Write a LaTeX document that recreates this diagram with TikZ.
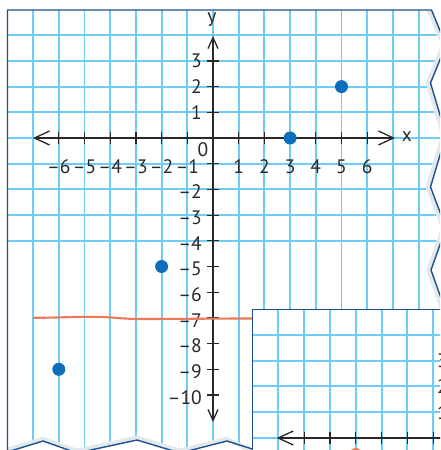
\documentclass[tikz,border=0pt]{standalone}
\usepackage{fontspec}
\setmainfont{PT Sans}
\usetikzlibrary{arrows.meta}
\definecolor{gridblue}{RGB}{110,205,245}
\definecolor{navy}{RGB}{30,80,145}
\definecolor{dotblue}{RGB}{15,110,185}
\definecolor{orangeline}{RGB}{235,122,88}
\definecolor{shadowgray}{RGB}{226,233,238}
\definecolor{axisgray}{RGB}{40,40,40}
\tikzset{
  bigbarb/.tip={Straight Barb[length=15pt,width=14pt,line width=1.3pt]},
  smallbarb/.tip={Straight Barb[length=11pt,width=10pt,line width=1.3pt]}
}
\begin{document}
\begin{tikzpicture}[x=1pt,y=-1pt,
  gridline/.style={gridblue,line width=1.9pt},
  edgeline/.style={navy,line width=1.4pt,line join=round},
  axisline/.style={axisgray,line width=1.3pt},
  tickline/.style={axisgray,line width=1.2pt},
  lbl/.style={font=\fontsize{19.5}{19.5}\selectfont,text=axisgray,inner sep=0pt},
  dotpt/.style={circle,fill=dotblue,minimum size=13pt,inner sep=0pt}]
\clip (0,0) rectangle (440,450);
\fill[white] (0,0) rectangle (440,450);
% main sheet: shadow band and white area
\fill[shadowgray] (7.5,10) -- (431.5,10) -- (446,45) -- (430.5,83) -- (446,135) -- (430.5,187) -- (446,228) -- (431,270) -- (446,312) -- (446,460) -- (265,460) -- (227,441) -- (180,453) -- (137,440) -- (77,453) -- (43,441) -- (7.5,452) -- cycle;
\fill[white] (7.5,10) -- (426.5,10) -- (441,45) -- (425.5,83) -- (441,135) -- (425.5,187) -- (441,228) -- (426,270) -- (441,312) -- (441,455) -- (265,455) -- (227,436.5) -- (180,448.5) -- (137,435.5) -- (77,448.5) -- (43,436.5) -- (7.5,447.5) -- cycle;
\begin{scope}
\clip (7.5,10) -- (426.5,10) -- (441,45) -- (425.5,83) -- (441,135) -- (425.5,187) -- (441,228) -- (426,270) -- (441,312) -- (441,455) -- (265,455) -- (227,436.5) -- (180,448.5) -- (137,435.5) -- (77,448.5) -- (43,436.5) -- (7.5,447.5) -- cycle;
\foreach \k in {-7,...,9} \draw[gridline] ({213+\k*25.7},0) -- ({213+\k*25.7},460);
\foreach \k in {-12,...,4} \draw[gridline] (0,{138+\k*25.7}) -- (450,{138+\k*25.7});
\end{scope}
\draw[edgeline] (7.5,452) -- (7.5,10) -- (431.5,10) -- (446,45) -- (430.5,83) -- (446,135) -- (430.5,187) -- (446,228) -- (431,270) -- (446,312);
\draw[edgeline] (7.5,452) -- (43,441) -- (77,453) -- (137,440) -- (180,453) -- (227,441) -- (265,453);
% axes
\coordinate (xl) at (33,138);
\coordinate (xr) at (395,138);
\coordinate (yt) at (213,36);
\coordinate (yb) at (213,422);
\draw[axisline,bigbarb-bigbarb] (xl) -- (xr);
\draw[axisline,smallbarb-smallbarb] (yb) -- (yt);
\foreach \k in {-6,...,-1,1,2,...,6} \draw[tickline] ({213+\k*25.7},132) -- ({213+\k*25.7},144);
\foreach \k in {-10,...,-1,1,2,3} \draw[tickline] (207,{138-\k*25.7}) -- (219,{138-\k*25.7});
\node[lbl] (xlab) at (407,137) {x};
\node[lbl] (ylab) at (212,20) {y};
\node[lbl] (zero) at (203,150) {0};
\foreach \k in {1,...,6} {
  \node[lbl] (xp\k) at ({213+\k*25.7},167) {\k};
  \node[lbl] (xn\k) at ({213-\k*25.7},167) {–\k};
}
\foreach \k in {1,2,3} \node[lbl,anchor=east] (yp\k) at (202,{138-\k*25.7}) {\k};
\foreach \k in {2,...,10} \node[lbl,anchor=east] (yn\k) at (202,{140.5+\k*25.7}) {–\k};
% orange line
\coordinate (oa) at (33,317.8);
\coordinate (ob) at (252.7,318.5);
\draw[orangeline,line width=2.1pt] (oa) to[out=0,in=180] (93,316.8) to[out=0,in=180] (140,319) to[out=0,in=180] (ob);
% points
\node[dotpt] (p1) at (290.1,138) {};
\node[dotpt] (p2) at (341.5,86.6) {};
\node[dotpt] (p3) at (161.6,266.5) {};
\node[dotpt] (p4) at (58.8,369.3) {};
% inset sheet
\fill[white] (252.7,309.5) rectangle (470,470);
\begin{scope}
\clip (252.7,309.5) rectangle (470,470);
\foreach \k in {1,...,7} \draw[gridline] ({459-\k*25.8},300) -- ({459-\k*25.8},470);
\foreach \k in {-1,...,4} \draw[gridline] (250,{438-\k*25.8}) -- (470,{438-\k*25.8});
\end{scope}
\draw[edgeline] (252.7,470) -- (252.7,309.5) -- (470,309.5);
\coordinate (il) at (276.7,438);
\coordinate (ir) at (470,438);
\draw[axisline,bigbarb-] (il) -- (ir);
\foreach \k in {1,...,6} \draw[tickline] ({459-\k*25.8},432) -- ({459-\k*25.8},444);
\foreach \k in {1,2,3} \node[lbl,anchor=east] (iy\k) at (448,{438-\k*25.8}) {\k};
\node[circle,fill=orangeline,minimum size=12pt,inner sep=0pt] (q1) at (355.8,454) {};
\end{tikzpicture}
\end{document}
